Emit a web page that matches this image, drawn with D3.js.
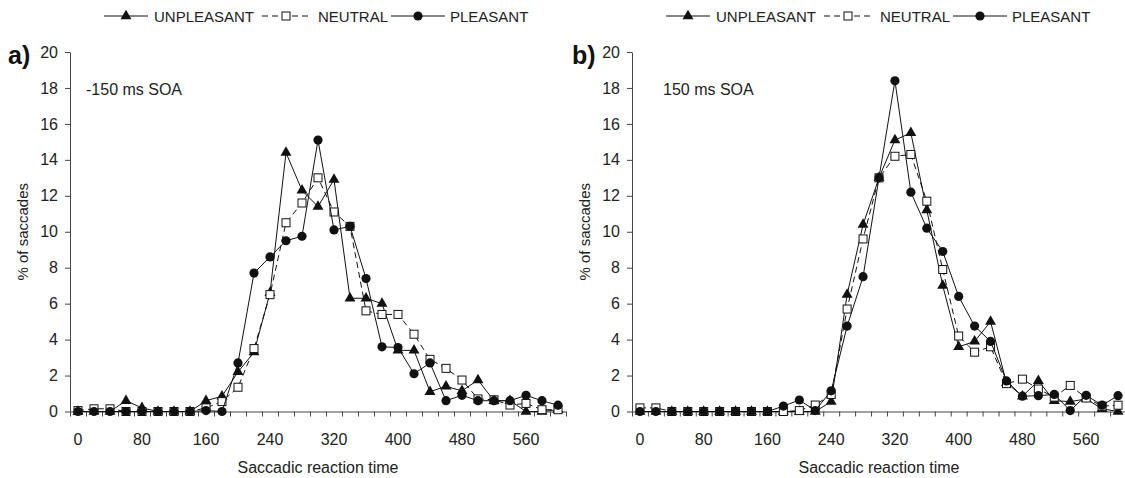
<!DOCTYPE html>
<html>
<head>
<meta charset="utf-8">
<script src="https://cdn.jsdelivr.net/npm/d3@7"></script>
<style>
body { margin: 0; background: #fff; }
svg { display: block; font-family: "Liberation Sans", Arial, sans-serif; }
</style>
</head>
<body>
<div class="chart"></div>
<script>

// categories: saccadic reaction time bins (ms)
var rt = d3.range(0, 601, 20);
var xLabels = [0, 80, 160, 240, 320, 400, 480, 560];
var yTicks = d3.range(0, 21, 2);

// a) -150 ms SOA
var unpleasantA = [0, 0, 0, 0.6, 0.2, 0, 0, 0, 0.6, 0.85, 2.2, 3.3, 6.6, 14.4, 12.3, 11.4, 12.9, 6.3, 6.3, 6.0, 3.4, 3.4, 1.1, 1.4, 1.15, 1.75, 0.6, 0.6, 0, 0, 0.1];
var neutralA   = [0.05, 0.15, 0.15, 0, 0, 0, 0, 0, 0.2, 0.55, 1.35, 3.5, 6.5, 10.5, 11.6, 13.0, 11.1, 10.3, 5.6, 5.4, 5.4, 4.3, 2.9, 2.4, 1.75, 0.7, 0.65, 0.36, 0.45, 0.1, 0.1];
var pleasantA  = [0, 0, 0, 0, 0, 0, 0, 0, 0.05, 0, 2.7, 7.7, 8.6, 9.5, 9.75, 15.1, 10.1, 10.3, 7.4, 3.6, 3.56, 2.1, 2.7, 0.6, 0.9, 0.6, 0.6, 0.6, 0.9, 0.6, 0.35];

// b) 150 ms SOA
var unpleasantB = [0, 0, 0, 0, 0, 0, 0, 0, 0, 0, 0, 0, 0.55, 6.5, 10.4, 13.0, 15.1, 15.5, 11.2, 7.0, 3.6, 3.9, 5.0, 1.6, 0.85, 1.7, 0.6, 0.55, 0.7, 0.15, 0];
var neutralB   = [0.2, 0.2, 0, 0, 0, 0, 0, 0, 0, 0, 0.05, 0.36, 0.95, 5.7, 9.6, 13.0, 14.2, 14.3, 11.7, 7.9, 4.2, 3.3, 3.6, 1.55, 1.8, 1.25, 0.8, 1.45, 0.75, 0.3, 0.35];
var pleasantB  = [0, 0, 0, 0, 0, 0, 0, 0, 0, 0.3, 0.64, 0.05, 1.15, 4.75, 7.5, 13.0, 18.4, 12.2, 10.2, 8.9, 6.4, 4.75, 3.9, 1.7, 0.85, 0.88, 0.95, 0.05, 0.9, 0.35, 0.88];

var seriesNames = ["UNPLEASANT", "NEUTRAL", "PLEASANT"];

var svg = d3.select("div.chart").append("svg")
            .attr("width", 1125)
            .attr("height", 478);

var y = d3.scaleLinear().domain([0, 20]).range([411.5, 52]);

function marker(sel, kind) {
  if (kind == "UNPLEASANT") {
    sel.append("path").attr("d", d3.symbol().type(d3.symbolTriangle).size(52)())
       .attr("fill", "#111");
  } else if (kind == "NEUTRAL") {
    sel.append("rect").attr("x", -4).attr("y", -4).attr("width", 8).attr("height", 8)
       .attr("fill", "#fff").attr("stroke", "#111").attr("stroke-width", 1);
  } else {
    sel.append("circle").attr("r", 4.6).attr("fill", "#111");
  }
}

function drawPanel(left, width, letter, letterX, soaText, soaX, series) {
  var g = svg.append("g").attr("transform", "translate(" + left + ",0)");

  var x = d3.scaleBand().domain(rt).range([0, width]);
  var xEdge = d3.scaleLinear().domain([0, rt.length]).range([0, width]);

  // y axis
  var yAxis = d3.axisLeft(y).tickValues(yTicks).tickSizeInner(5).tickSizeOuter(0).tickPadding(7);
  g.append("g").attr("class", "y axis").call(yAxis);

  // x axis: tick marks between categories, labels on every 4th bin
  g.append("g").attr("class", "x axis")
   .attr("transform", "translate(0," + y(0) + ")")
   .call(d3.axisBottom(xEdge).tickValues(d3.range(rt.length + 1)).tickFormat("").tickSizeInner(5).tickSizeOuter(0));
  var xl = g.append("g").attr("class", "x labels")
            .attr("transform", "translate(0," + y(0) + ")")
            .call(d3.axisBottom(x).tickValues(xLabels).tickSize(0).tickPadding(22));
  xl.select(".domain").remove();

  g.selectAll(".axis path, .axis line").attr("stroke", "#444").attr("stroke-width", 1);
  g.selectAll(".axis text, .labels text")
   .attr("font-family", "Liberation Sans, Arial, sans-serif")
   .attr("font-size", 16).attr("fill", "#222");

  // series
  series.forEach(function(s) {
    var line = d3.line()
      .x(function(d, i) { return x(rt[i]) + x.bandwidth() / 2; })
      .y(function(d) { return y(d); });

    g.append("path")
     .attr("fill", "none")
     .attr("stroke", "#111")
     .attr("stroke-width", 1)
     .attr("stroke-dasharray", s.name == "NEUTRAL" ? "6,4" : null)
     .attr("d", line(s.values));

    g.selectAll("g.pt" + s.name)
     .data(s.values)
     .enter().append("g")
       .attr("class", "pt" + s.name)
       .attr("transform", function(d, i) { return "translate(" + (x(rt[i]) + x.bandwidth() / 2) + "," + y(d) + ")"; })
       .each(function() { marker(d3.select(this), s.name); });
  });

  // titles
  g.append("text")
   .attr("x", width / 2).attr("y", 473)
   .attr("text-anchor", "middle").attr("font-size", 16).attr("fill", "#222")
   .text("Saccadic reaction time");

  g.append("text")
   .attr("transform", "translate(-48," + ((y(0) + y(20)) / 2) + ") rotate(-90)")
   .attr("text-anchor", "middle").attr("dominant-baseline", "central")
   .attr("font-size", 15).attr("fill", "#222")
   .text("% of saccades");

  g.append("text")
   .attr("x", letterX).attr("y", 64)
   .attr("font-size", 25).attr("font-weight", "bold").attr("fill", "#111")
   .text(letter);

  g.append("text")
   .attr("x", soaX).attr("y", 95)
   .attr("font-size", 16).attr("fill", "#222")
   .text(soaText);

  // legend
  var lg = g.append("g").attr("class", "legend").attr("transform", "translate(0,16)");
  var legendPos = [
    {line: [34, 78], mark: 56, text: 84},
    {line: [192, 241], mark: 216, text: 248},
    {line: [321, 375], mark: 348, text: 380}
  ];
  seriesNames.forEach(function(name, i) {
    var p = legendPos[i];
    lg.append("line")
      .attr("x1", p.line[0]).attr("x2", p.line[1])
      .attr("stroke", "#111").attr("stroke-width", 1)
      .attr("stroke-dasharray", name == "NEUTRAL" ? "6,4" : null);
    var m = lg.append("g").attr("transform", "translate(" + p.mark + ",0)");
    marker(m, name);
    lg.append("text")
      .attr("x", p.text).attr("y", 0)
      .attr("dominant-baseline", "central")
      .attr("font-size", 15).attr("fill", "#222")
      .text(name);
  });
}

drawPanel(70, 496, "a)", -62, "-150 ms SOA", 16, [
  {name: "UNPLEASANT", values: unpleasantA},
  {name: "NEUTRAL", values: neutralA},
  {name: "PLEASANT", values: pleasantA}
]);

drawPanel(632, 494, "b)", -60, "150 ms SOA", 31, [
  {name: "UNPLEASANT", values: unpleasantB},
  {name: "NEUTRAL", values: neutralB},
  {name: "PLEASANT", values: pleasantB}
]);

</script>
</body>
</html>
